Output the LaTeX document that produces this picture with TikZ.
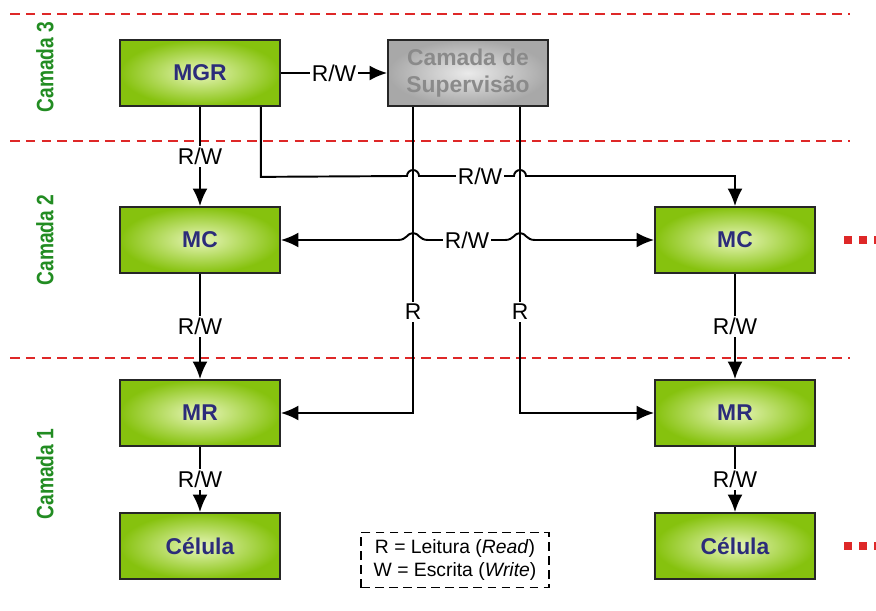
\documentclass[tikz,border=0pt]{standalone}
\usepackage{fontspec}
\usepackage{graphicx}
\setmainfont{Liberation Sans}
\usetikzlibrary{arrows.meta,calc}
\definecolor{BoxClr}{RGB}{134,194,14}
\definecolor{BoxLight}{RGB}{232,246,186}
\definecolor{NameClr}{RGB}{44,44,122}
\definecolor{LayerClr}{RGB}{34,140,34}
\definecolor{SupClr}{RGB}{168,168,168}
\definecolor{SupLight}{RGB}{234,234,234}
\definecolor{SupText}{RGB}{138,138,138}
\definecolor{CutClr}{RGB}{222,40,40}
\newcommand{\layername}[1]{\scalebox{0.81}[1]{#1}}

\begin{document}
\begin{tikzpicture}[x=0.02cm,y=0.02cm,line width=1.1pt,
  >={Latex[length=10pt,width=8.5pt]},
  block/.style={draw=black!85,line width=1pt,minimum width=3.2cm,minimum height=1.32cm,
    inner color=BoxLight,outer color=BoxClr,text=NameClr,font=\fontsize{13}{15}\selectfont\bfseries},
  supbox/.style={block,inner color=SupLight,outer color=SupClr,text=SupText,align=center,
    font=\fontsize{13}{15.5}\selectfont\bfseries},
  rw/.style={fill=white,inner sep=1pt,font=\fontsize{13}{15}\selectfont},
  layer/.style={rotate=90,text=LayerClr,font=\fontsize{13.5}{15}\selectfont\bfseries},
  cut/.style={draw=CutClr,line width=1.1pt,dash pattern=on 5.5pt off 3.5pt}]
\useasboundingbox (0,0) rectangle (876,610);

\foreach \y in {596,469,252} \draw[cut] (10,\y) -- (850,\y);

\node[layer] (L3) at (45,543) {\layername{Camada 3}};
\node[layer] (L2) at (45,370) {\layername{Camada 2}};
\node[layer] (L1) at (45,136) {\layername{Camada 1}};

\node[block] (MGR) at (200,537) {MGR};
\node[supbox] (Sup) at (468,537) {Camada de\\Supervisão};
\node[block] (MCa) at (200,370) {MC};
\node[block] (MCb) at (735,370) {MC};
\node[block] (MRa) at (200,197) {MR};
\node[block] (MRb) at (735,197) {MR};
\node[block] (CELa) at (200,64) {Célula};
\node[block] (CELb) at (735,64) {Célula};

\draw[->] (MGR) -- node[rw]{R/W} (Sup);
\draw[->] (MGR) -- node[rw]{R/W} (MCa);
\draw[->] (MCa) -- node[rw]{R/W} (MRa);
\draw[->] (MCb) -- node[rw]{R/W} (MRb);
\draw[->] (MRa) -- node[rw]{R/W} (CELa);
\draw[->] (MRb) -- node[rw]{R/W} (CELb);

\coordinate (s1) at ($(Sup.south)+(-55,0)$);
\coordinate (s2) at ($(Sup.south)+(52,0)$);
\draw[->] (s1) -- node[rw,pos=.67]{R} (s1|-MRa) -- (MRa);
\draw[->] (s2) -- node[rw,pos=.67]{R} (s2|-MRb) -- (MRb);

\coordinate (g) at ($(MGR.south east)+(-20,0)$);
\draw[->] (g) -- ($(g)+(0,-70)$) -- (407,434) arc[start angle=180,end angle=0,radius=6]
  -- (514,434) arc[start angle=180,end angle=0,radius=6] -- (MCb.north|-0,434) -- (MCb.north);
\node[rw] (rwg) at (480,434) {R/W};

\draw[<->] (MCa) -- (398,370) .. controls (407,370) and (407,377) .. (413,377)
  .. controls (419,377) and (419,370) .. (428,370) -- (505,370)
  .. controls (514,370) and (514,377) .. (520,377)
  .. controls (526,377) and (526,370) .. (535,370) -- (MCb);
\node[rw] (rwc) at (467,370) {R/W};

\foreach \x in {848,863,878} {
  \fill[CutClr] (\x-4,366) rectangle (\x+4,374);
  \fill[CutClr] (\x-4,60) rectangle (\x+4,68);
}

\node[draw,line width=0.8pt,dash pattern=on 5pt off 3pt,align=center,minimum width=3.76cm,
  minimum height=1.1cm,font=\fontsize{11}{13.5}\selectfont] (key) at (455,50)
  {R = Leitura (\textit{Read})\\W = Escrita (\textit{Write})};

\end{tikzpicture}
\end{document}
